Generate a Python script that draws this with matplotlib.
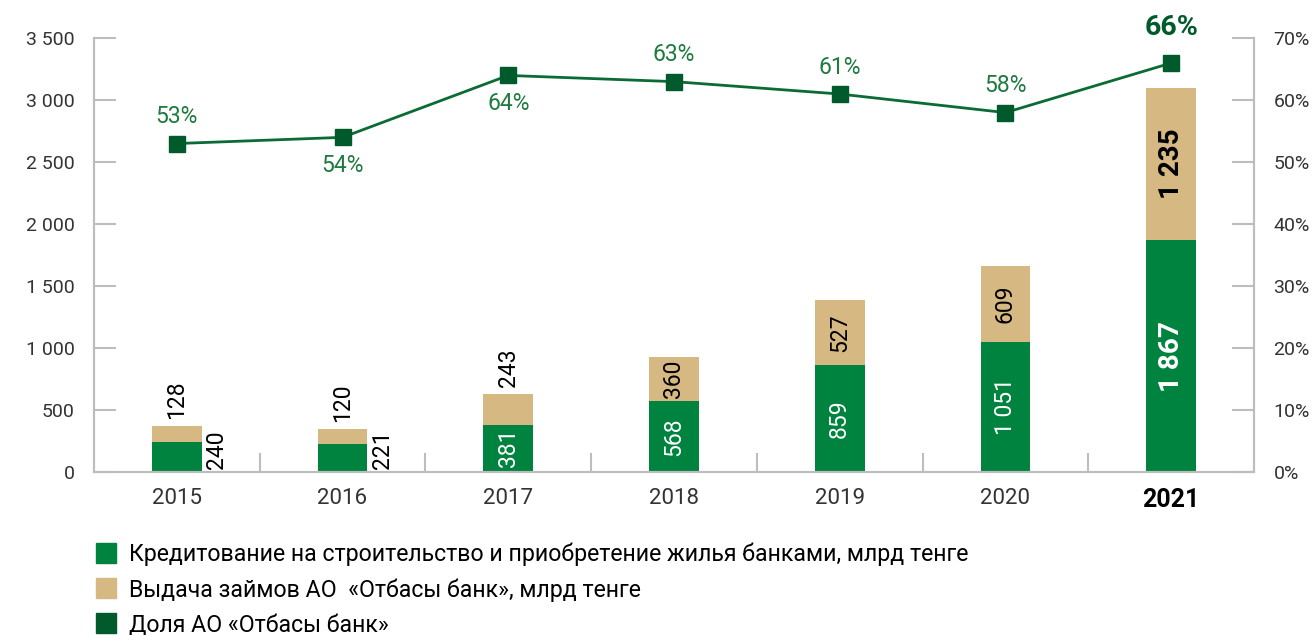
import matplotlib.pyplot as plt
from matplotlib.lines import Line2D
import numpy as np

plt.rcParams["font.family"] = ["Roboto", "DejaVu Sans"]

years = ["2015", "2016", "2017", "2018", "2019", "2020", "2021"]
bank_loans = [240, 221, 381, 568, 859, 1051, 1867]
otbasy_loans = [128, 120, 243, 360, 527, 609, 1235]
otbasy_share = [53, 54, 64, 63, 61, 58, 66]

legend_labels = [
    "Кредитование на строительство и приобретение жилья банками, млрд тенге",
    "Выдача займов АО  «Отбасы банк», млрд тенге",
    "Доля АО «Отбасы банк»",
]

GREEN = "#00833E"
TAN = "#D6B882"
DARK = "#005A2B"
LINE = "#0B6B35"
PCT_TXT = "#1F7A3F"
GRID = "#BDBDBD"
TICK_TXT = "#333333"

LBL = 16.5


def fmt(v):
    return f"{v:,}".replace(",", " ")


fig = plt.figure(figsize=(13.12, 6.35), dpi=100)
ax = fig.add_axes([0.0716, 0.2572, 0.8842, 0.6825])
ax2 = ax.twinx()

x = np.arange(len(years))
w = 0.3
ax.bar(x, bank_loans, width=w, color=GREEN, zorder=2)
ax.bar(x, otbasy_loans, width=w, bottom=bank_loans, color=TAN, zorder=2)

ax.set_xlim(-0.5, len(years) - 0.5)
ax.set_ylim(0, 3500)
ax.set_yticks(range(0, 3501, 500))
ax.set_yticklabels([fmt(v) for v in range(0, 3501, 500)])
ax2.set_ylim(0, 70)
ax2.set_yticks(range(0, 71, 10))
ax2.set_yticklabels([f"{v}%" for v in range(0, 71, 10)])

for a in (ax, ax2):
    for s in a.spines.values():
        s.set_color(GRID)
        s.set_linewidth(1.5)
    a.spines["top"].set_visible(False)
    a.tick_params(axis="y", direction="in", length=16, width=1.5, color=GRID,
                  labelsize=14, labelcolor=TICK_TXT, pad=14)

ax.set_xticks(x)
ax.set_xticklabels(years, fontsize=16, color=TICK_TXT)
ax.get_xticklabels()[-1].set_fontweight("bold")
ax.get_xticklabels()[-1].set_color("black")
ax.get_xticklabels()[-1].set_fontsize(18)
ax.tick_params(axis="x", length=0, pad=12)
ax.set_xticks(x[:-1] + 0.5, minor=True)
ax.tick_params(axis="x", which="minor", direction="in", length=14, width=1.5, color=GRID)

# bar labels
for i, (b, o) in enumerate(zip(bank_loans, otbasy_loans)):
    total = b + o
    if i < 2:
        ax.text(i + w / 2 + 0.09, 25, fmt(b), rotation=90, ha="center", va="bottom",
                fontsize=LBL, color="black")
        ax.text(i, total + 60, fmt(o), rotation=90, ha="center", va="bottom",
                fontsize=LBL, color="black")
    elif i == 2:
        ax.text(i, b / 2, fmt(b), rotation=90, ha="center", va="center",
                fontsize=LBL, color="white")
        ax.text(i, total + 60, fmt(o), rotation=90, ha="center", va="bottom",
                fontsize=LBL, color="black")
    elif i < 6:
        ax.text(i, b / 2, fmt(b), rotation=90, ha="center", va="center",
                fontsize=LBL, color="white")
        ax.text(i, b + o / 2, fmt(o), rotation=90, ha="center", va="center",
                fontsize=LBL, color="black")
    else:
        ax.text(i, b / 2, fmt(b), rotation=90, ha="center", va="center",
                fontsize=20, fontweight="bold", color="white")
        ax.text(i, b + o / 2, fmt(o), rotation=90, ha="center", va="center",
                fontsize=20, fontweight="bold", color="black")

ax2.plot(x, otbasy_share, color=LINE, lw=2, marker="s", ms=11,
         mfc=DARK, mec=DARK, zorder=3)
below = {1, 2}
for i, p in enumerate(otbasy_share):
    if i == len(otbasy_share) - 1:
        ax2.annotate(f"{p}%", (i, p), xytext=(0, 16), textcoords="offset points",
                     ha="center", va="bottom", fontsize=20.5, fontweight="bold", color=DARK)
    elif i in below:
        ax2.annotate(f"{p}%", (i, p), xytext=(0, -12), textcoords="offset points",
                     ha="center", va="top", fontsize=16.5, color=PCT_TXT)
    else:
        ax2.annotate(f"{p}%", (i, p), xytext=(0, 11), textcoords="offset points",
                     ha="center", va="bottom", fontsize=16.5, color=PCT_TXT)

handles = [Line2D([], [], ls="none", marker="s", ms=14, mfc=c, mec=c)
           for c in (GREEN, TAN, DARK)]
fig.legend(handles, legend_labels, loc="upper left", bbox_to_anchor=(0.063, 0.164),
           frameon=False, fontsize=16.7, handletextpad=0.5, labelspacing=0.52,
           handlelength=1.0, borderpad=0)

fig.savefig("out.png", dpi=100)
